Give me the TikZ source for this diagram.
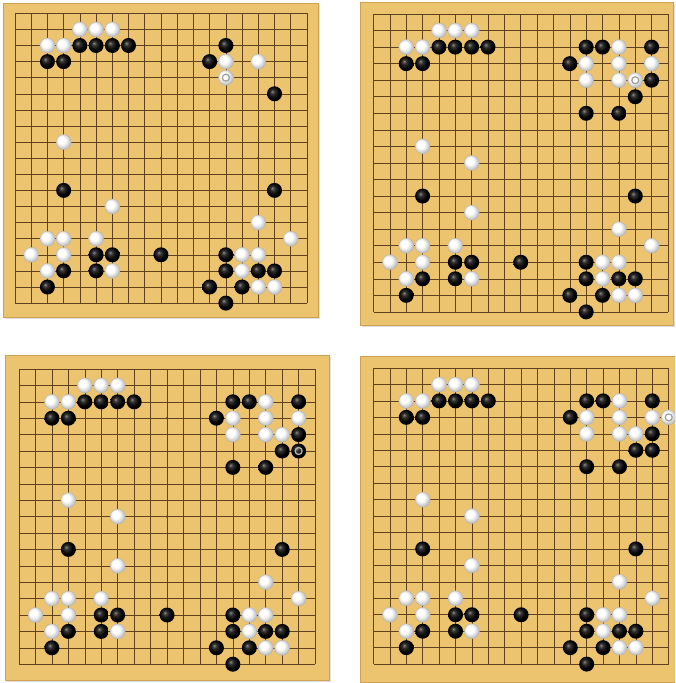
\documentclass[tikz,border=0pt]{standalone}
\usepackage{tikz}
\usepackage{xcolor}
\definecolor{woodcol}{RGB}{236,196,112}
\definecolor{woodedge}{RGB}{205,160,82}
\definecolor{linecol}{RGB}{95,65,32}
\pgfdeclareradialshading{blackstone}{\pgfpoint{-8bp}{8bp}}{color(0bp)=(black!45);color(7bp)=(black!80);color(20bp)=(black);color(50bp)=(black)}
\pgfdeclareradialshading{whitestone}{\pgfpoint{-8bp}{8bp}}{color(0bp)=(white);color(12bp)=(white);color(28bp)=(black!28);color(36bp)=(black!42);color(50bp)=(black!42)}

\begin{document}
\begin{tikzpicture}[x=1pt,y=-1pt,
  board/.style={fill=woodcol,draw=woodedge,line width=0.8pt},
  gridline/.style={linecol,line width=0.55pt},
  bstone/.style={shading=blackstone},
  wstone/.style={shading=whitestone,draw=black!30,line width=0.3pt},
  lastmove/.style={line width=1.2pt}]
\useasboundingbox (0,0) rectangle (675,683);
\clip (0,0) rectangle (675,683);
\fill[white] (0,0) rectangle (675,683);
% the four boards: grid origin, spacing, frame in grid units
\foreach \ox/\oy/\sx/\sy/\fl/\ft/\fr/\fb in {15/13.3/16.22/16.1/-0.74/-0.64/18.68/18.86,373.5/14/16.36/16.55/-0.83/-0.73/18.31/18.79,19/369/16.45/16.4/-0.85/-0.85/18.84/18.96,373.5/368/16.4/16.45/-0.82/-0.73/19.4/19.09} {
\begin{scope}[shift={(\ox pt,-\oy pt)},x=\sx pt,y=-\sy pt]
\fill[black!12] ([shift={(2pt,-2pt)}]\fl,\ft) rectangle ([shift={(2pt,-2pt)}]\fr,\fb);
\draw[board] (\fl,\ft) rectangle (\fr,\fb);
\foreach \i in {0,...,18} {\draw[gridline] (\i,0)--(\i,18);\draw[gridline] (0,\i)--(18,\i);}
\foreach \i in {3,9,15} {\foreach \j in {3,9,15} {\fill[linecol] (\i,\j) circle (1.3pt);}}
\foreach \c/\r in {2/3,3/3,4/2,5/2,6/2,7/2,13/2,12/3,16/5,3/11,16/11,5/15,6/15,9/15,3/16,5/16,2/17,13/15,13/16,15/16,16/16,12/17,14/17,13/18} {\shade[bstone] (\c,\r) circle (7.5pt);}
\foreach \c/\r in {4/1,5/1,6/1,2/2,3/2,13/3,15/3,13/4,3/8,6/12,15/13,17/14,2/14,3/14,5/14,1/15,3/15,2/16,6/16,14/15,15/15,14/16,15/17,16/17} {\shadedraw[wstone] (\c,\r) circle (7.5pt);}
\end{scope}
}
% stones added from the second board on
\foreach \ox/\oy/\sx/\sy in {373.5/14/16.36/16.55,19/369/16.45/16.4,373.5/368/16.4/16.45} {
\begin{scope}[shift={(\ox pt,-\oy pt)},x=\sx pt,y=-\sy pt]
\foreach \c/\r in {14/2,17/2,17/4,13/6,15/6} {\shade[bstone] (\c,\r) circle (7.5pt);}
\foreach \c/\r in {15/2,17/3,15/4,16/4,6/9} {\shadedraw[wstone] (\c,\r) circle (7.5pt);}
\end{scope}
}
\foreach \ox/\oy/\sx/\sy in {19/369/16.45/16.4,373.5/368/16.4/16.45} {
\begin{scope}[shift={(\ox pt,-\oy pt)},x=\sx pt,y=-\sy pt]
\shade[bstone] (17,5) circle (7.5pt);
\end{scope}
}
\begin{scope}[shift={(373.5pt,-368pt)},x=16.4pt,y=-16.45pt]
\shadedraw[wstone] (18,3) circle (7.5pt);
\end{scope}
% last move markers
\foreach \ox/\oy/\sx/\sy/\mc/\mr/\mcol in {15/13.3/16.22/16.1/13/4/black!38,373.5/14/16.36/16.55/16/4/black!38,19/369/16.45/16.4/17/5/white!72!black,373.5/368/16.4/16.45/18/3/black!38} {
\begin{scope}[shift={(\ox pt,-\oy pt)},x=\sx pt,y=-\sy pt]
\draw[lastmove,draw=\mcol] (\mc,\mr) circle (3.5pt);
\end{scope}
}
\end{tikzpicture}
\end{document}
